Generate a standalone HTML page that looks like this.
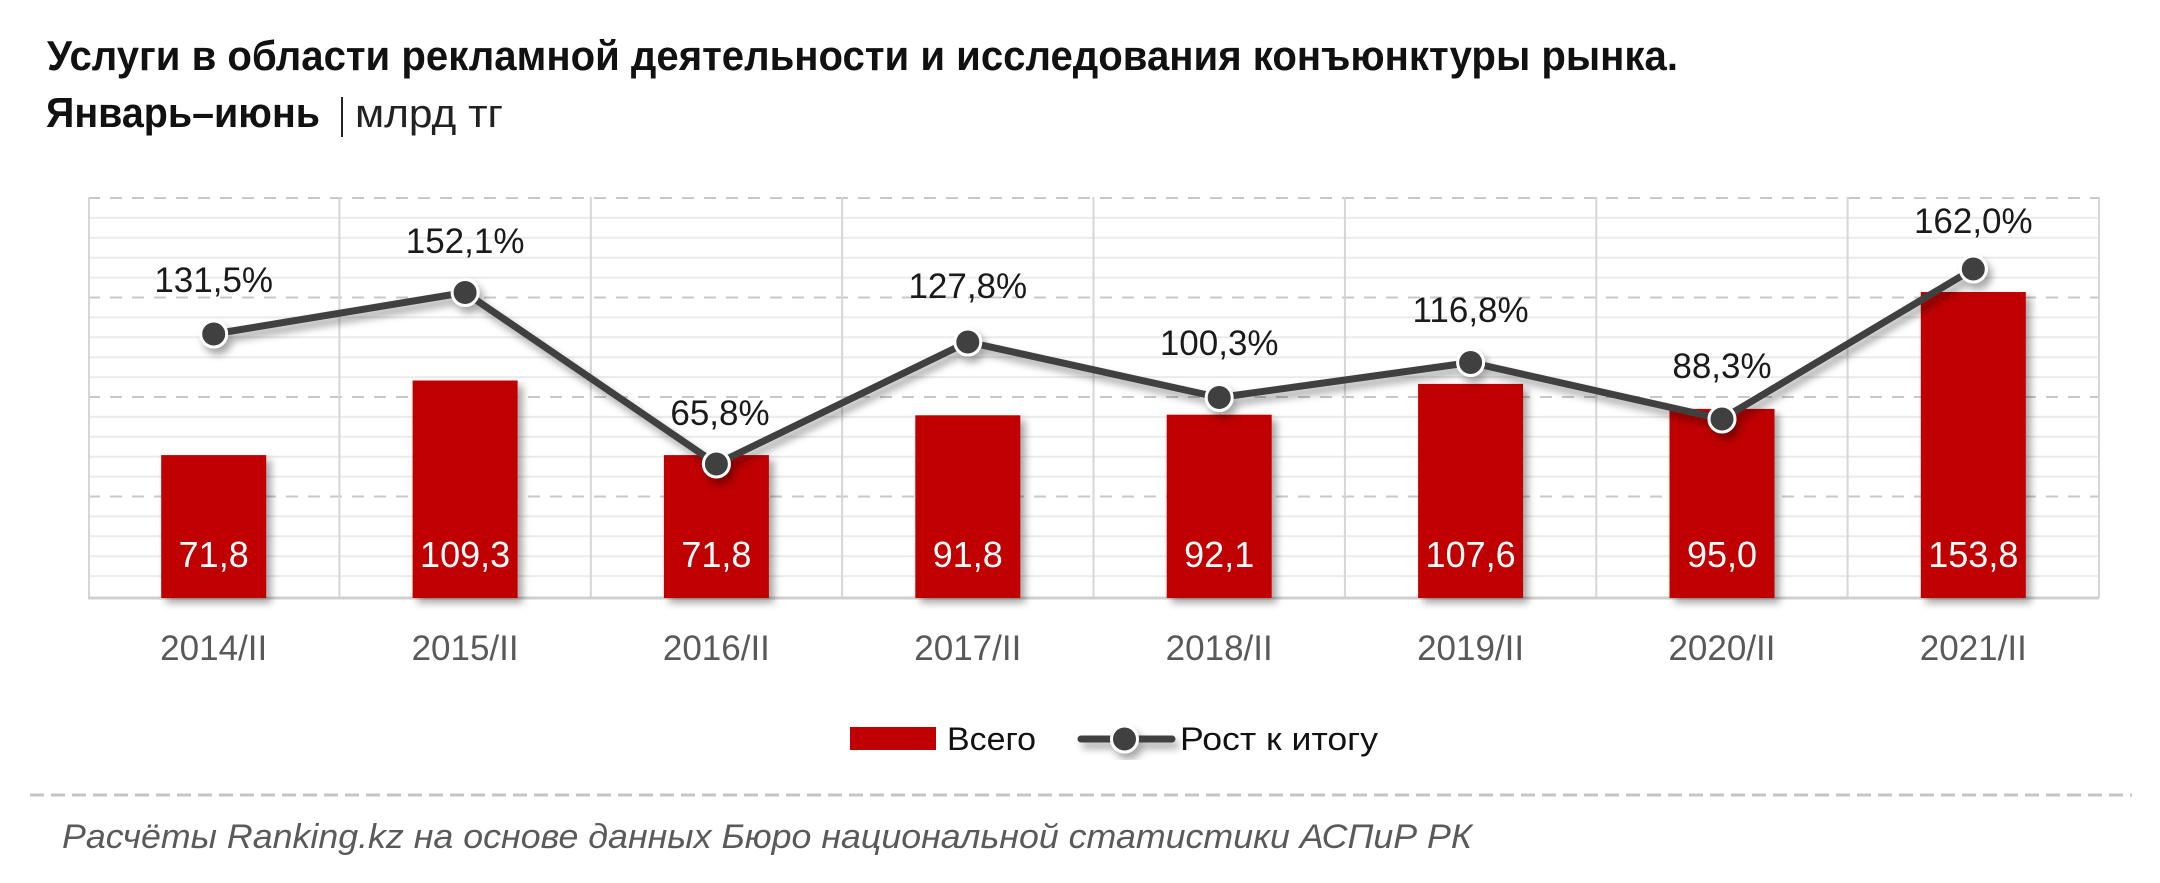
<!DOCTYPE html>
<html>
<head>
<meta charset="utf-8">
<style>
  html,body{margin:0;padding:0;background:#fff;}
  body{width:2160px;height:883px;overflow:hidden;}
  svg{display:block;}
  text{font-family:"Liberation Sans","Noto Sans CJK SC",sans-serif;}
</style>
</head>
<body>
<svg width="2160" height="883" viewBox="0 0 2160 883" xmlns="http://www.w3.org/2000/svg">
  <defs>
    <filter id="sh" x="-20%" y="-20%" width="150%" height="150%">
      <feDropShadow dx="5" dy="5" stdDeviation="4" flood-color="#000" flood-opacity="0.35"/>
    </filter>
    <filter id="shl" x="-10%" y="-20%" width="120%" height="150%">
      <feDropShadow dx="4" dy="6" stdDeviation="4" flood-color="#000" flood-opacity="0.35"/>
    </filter>
  </defs>

  <!-- Title -->
  <text x="47" y="70" font-size="42" font-weight="bold" fill="#111" textLength="1631" lengthAdjust="spacingAndGlyphs">Услуги в области рекламной деятельности и исследования конъюнктуры рынка.</text>
  <text x="46" y="127" font-size="42" font-weight="bold" fill="#111" textLength="274" lengthAdjust="spacingAndGlyphs">Январь–июнь</text>
  <line x1="342" y1="97" x2="342" y2="137" stroke="#222" stroke-width="2"/>
  <text x="355" y="127" font-size="40" fill="#222" textLength="148" lengthAdjust="spacingAndGlyphs">млрд тг</text>

  <!-- Minor gridlines -->
  <g stroke="#ebebeb" stroke-width="2">
    <line x1="88" y1="217.9" x2="2099" y2="217.9"/>
    <line x1="88" y1="237.8" x2="2099" y2="237.8"/>
    <line x1="88" y1="257.7" x2="2099" y2="257.7"/>
    <line x1="88" y1="277.6" x2="2099" y2="277.6"/>
    <line x1="88" y1="317.4" x2="2099" y2="317.4"/>
    <line x1="88" y1="337.3" x2="2099" y2="337.3"/>
    <line x1="88" y1="357.2" x2="2099" y2="357.2"/>
    <line x1="88" y1="377.1" x2="2099" y2="377.1"/>
    <line x1="88" y1="416.9" x2="2099" y2="416.9"/>
    <line x1="88" y1="436.8" x2="2099" y2="436.8"/>
    <line x1="88" y1="456.7" x2="2099" y2="456.7"/>
    <line x1="88" y1="476.6" x2="2099" y2="476.6"/>
    <line x1="88" y1="516.4" x2="2099" y2="516.4"/>
    <line x1="88" y1="536.3" x2="2099" y2="536.3"/>
    <line x1="88" y1="556.2" x2="2099" y2="556.2"/>
    <line x1="88" y1="576.1" x2="2099" y2="576.1"/>
  </g>
  <!-- Major dashed gridlines -->
  <g stroke="#c8c8c8" stroke-width="2" stroke-dasharray="12 10">
    <line x1="88" y1="198" x2="2099" y2="198"/>
    <line x1="88" y1="297.5" x2="2099" y2="297.5"/>
    <line x1="88" y1="397" x2="2099" y2="397"/>
    <line x1="88" y1="496.5" x2="2099" y2="496.5"/>
  </g>
  <!-- Vertical separators & borders -->
  <g stroke="#d6d6d6" stroke-width="2">
    <line x1="89" y1="197" x2="89" y2="598"/>
    <line x1="339.4" y1="197" x2="339.4" y2="598"/>
    <line x1="590.8" y1="197" x2="590.8" y2="598"/>
    <line x1="842.1" y1="197" x2="842.1" y2="598"/>
    <line x1="1093.5" y1="197" x2="1093.5" y2="598"/>
    <line x1="1344.9" y1="197" x2="1344.9" y2="598"/>
    <line x1="1596.3" y1="197" x2="1596.3" y2="598"/>
    <line x1="1847.6" y1="197" x2="1847.6" y2="598"/>
    <line x1="2099" y1="197" x2="2099" y2="598"/>
  </g>
  <line x1="88" y1="598" x2="2099" y2="598" stroke="#d0d0d0" stroke-width="3"/>

  <!-- Bars -->
  <g fill="#c00000" filter="url(#sh)">
    <rect x="161.2" y="455.1" width="105" height="142.9"/>
    <rect x="412.6" y="380.5" width="105" height="217.5"/>
    <rect x="663.9" y="455.1" width="105" height="142.9"/>
    <rect x="915.3" y="415.3" width="105" height="182.7"/>
    <rect x="1166.7" y="414.7" width="105" height="183.3"/>
    <rect x="1418.1" y="383.9" width="105" height="214.1"/>
    <rect x="1669.5" y="408.9" width="105" height="189.1"/>
    <rect x="1920.8" y="292" width="105" height="306"/>
  </g>

  <!-- Bar labels -->
  <g font-size="36" fill="#fff" text-anchor="middle">
    <text x="213.7" y="567">71,8</text>
    <text x="465.1" y="567">109,3</text>
    <text x="716.4" y="567">71,8</text>
    <text x="967.8" y="567">91,8</text>
    <text x="1219.2" y="567">92,1</text>
    <text x="1470.6" y="567">107,6</text>
    <text x="1722" y="567">95,0</text>
    <text x="1973.3" y="567">153,8</text>
  </g>

  <!-- Line series -->
  <g filter="url(#shl)">
    <polyline fill="none" stroke="#404040" stroke-width="7" stroke-linejoin="round"
      points="213.7,334 465.1,292.5 716.4,464 967.8,342 1219.2,397.5 1470.6,362.5 1722,419 1973.3,269"/>
    <g fill="#404040" stroke="#fff" stroke-width="3">
      <circle cx="213.7" cy="334" r="13"/>
      <circle cx="465.1" cy="292.5" r="13"/>
      <circle cx="716.4" cy="464" r="13"/>
      <circle cx="967.8" cy="342" r="13"/>
      <circle cx="1219.2" cy="397.5" r="13"/>
      <circle cx="1470.6" cy="362.5" r="13"/>
      <circle cx="1722" cy="419" r="13"/>
      <circle cx="1973.3" cy="269" r="13"/>
    </g>
  </g>

  <!-- Percent labels -->
  <g font-size="35" fill="#1a1a1a" text-anchor="middle">
    <text x="213.7" y="292">131,5%</text>
    <text x="465.1" y="253">152,1%</text>
    <text x="720" y="425">65,8%</text>
    <text x="967.8" y="298">127,8%</text>
    <text x="1219.2" y="355">100,3%</text>
    <text x="1470.6" y="322">116,8%</text>
    <text x="1722" y="378">88,3%</text>
    <text x="1973.3" y="233">162,0%</text>
  </g>

  <!-- Category labels -->
  <g font-size="35" fill="#595959" text-anchor="middle">
    <text x="213.7" y="660">2014/II</text>
    <text x="465.1" y="660">2015/II</text>
    <text x="716.4" y="660">2016/II</text>
    <text x="967.8" y="660">2017/II</text>
    <text x="1219.2" y="660">2018/II</text>
    <text x="1470.6" y="660">2019/II</text>
    <text x="1722" y="660">2020/II</text>
    <text x="1973.3" y="660">2021/II</text>
  </g>

  <!-- Legend -->
  <rect x="850" y="727" width="86" height="23" fill="#c00000"/>
  <text x="947" y="750" font-size="32" fill="#111" textLength="89" lengthAdjust="spacingAndGlyphs">Всего</text>
  <g filter="url(#shl)">
    <line x1="1081" y1="739" x2="1172" y2="739" stroke="#404040" stroke-width="7" stroke-linecap="round"/>
    <circle cx="1124.5" cy="739" r="13" fill="#404040" stroke="#fff" stroke-width="3"/>
  </g>
  <text x="1180" y="750" font-size="32" fill="#111" textLength="198" lengthAdjust="spacingAndGlyphs">Рост к итогу</text>

  <!-- Footer -->
  <line x1="30" y1="795" x2="2132" y2="795" stroke="#c4c4c4" stroke-width="3" stroke-dasharray="14 7"/>
  <text x="62" y="848" font-size="34" font-style="italic" fill="#5a5a5a" textLength="1410" lengthAdjust="spacingAndGlyphs">Расчёты Ranking.kz на основе данных Бюро национальной статистики АСПиР РК</text>
</svg>
</body>
</html>
